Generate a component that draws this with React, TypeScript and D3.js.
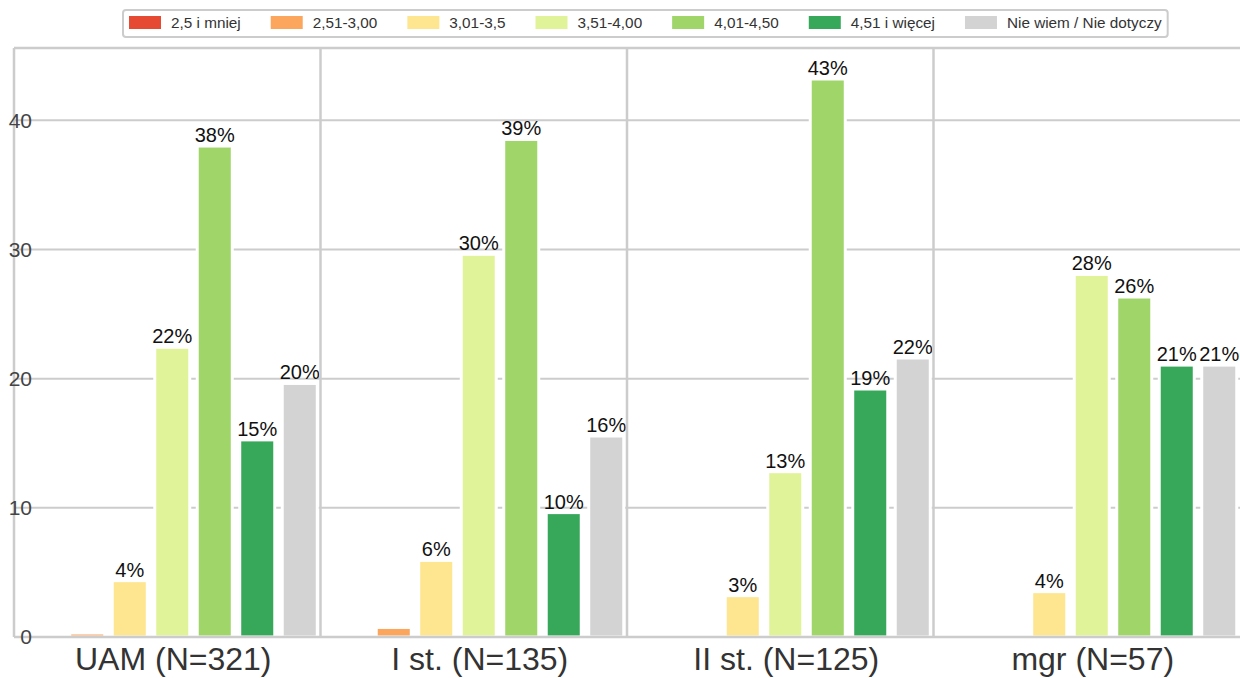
import React, { useEffect, useRef } from 'react';
import * as d3 from 'd3';

const W = 1240;
const H = 678;
const FONT = '"Liberation Sans", Arial, Helvetica, sans-serif';

const GROUPS = ['UAM (N=321)', 'I st. (N=135)', 'II st. (N=125)', 'mgr (N=57)'];
const SERIES = [
  '2,5 i mniej',
  '2,51-3,00',
  '3,01-3,5',
  '3,51-4,00',
  '4,01-4,50',
  '4,51 i więcej',
  'Nie wiem / Nie dotyczy',
];
const COLORS = ['#e64a33', '#fca55d', '#fee58f', '#e1f399', '#a0d56a', '#37a85a', '#d3d3d3'];

// percentages per group, in SERIES order
const UAM = [0, 0.31, 4.36, 22.43, 38.01, 15.26, 19.63];
const I_ST = [0, 0.74, 5.93, 29.63, 38.52, 9.63, 15.56];
const II_ST = [0, 0, 3.2, 12.8, 43.2, 19.2, 21.6];
const MGR = [0, 0, 3.51, 28.07, 26.32, 21.05, 21.05];
const VALUES = [UAM, I_ST, II_ST, MGR];

const Y_TICKS = [0, 10, 20, 30, 40];
const Y_MAX = 45.6;

const PLOT_LEFT = 14;
const PLOT_TOP = 48;
const PLOT_BOTTOM = 637;
const GRID = '#cccccc';

export default function App() {
  const ref = useRef<SVGSVGElement>(null);

  useEffect(() => {
    const svg = d3.select(ref.current);
    svg.selectAll('*').remove();

    const x0 = d3.scaleBand<string>().domain(GROUPS).range([19, 19 + 4 * 306.5]);
    const x1 = d3
      .scaleBand<string>()
      .domain(SERIES)
      .range([0, x0.bandwidth()])
      .paddingInner(0.176)
      .paddingOuter(0.194);
    const y = d3.scaleLinear().domain([0, Y_MAX]).range([PLOT_BOTTOM, PLOT_TOP]);

    // horizontal grid
    svg
      .append('g')
      .selectAll('line')
      .data(Y_TICKS.filter((t) => t > 0))
      .join('line')
      .attr('x1', PLOT_LEFT)
      .attr('x2', W)
      .attr('y1', (d) => y(d))
      .attr('y2', (d) => y(d))
      .attr('stroke', GRID)
      .attr('stroke-width', 2);

    // bars
    const groups = svg
      .append('g')
      .selectAll('g')
      .data(GROUPS)
      .join('g')
      .attr('transform', (g) => `translate(${x0(g)},0)`);

    groups
      .selectAll('rect')
      .data((g, i) => VALUES[i].map((v, j) => ({ key: SERIES[j], v, color: COLORS[j] })))
      .join('rect')
      .attr('x', (d) => x1(d.key)!)
      .attr('width', x1.bandwidth())
      .attr('y', (d) => y(d.v))
      .attr('height', (d) => PLOT_BOTTOM - y(d.v))
      .attr('fill', (d) => d.color)
      .attr('stroke', '#fff')
      .attr('stroke-width', 3);

    // frame + group separators
    const frame = svg.append('g').attr('stroke', GRID).attr('fill', 'none');
    frame
      .append('line')
      .attr('x1', PLOT_LEFT)
      .attr('x2', W)
      .attr('y1', PLOT_TOP)
      .attr('y2', PLOT_TOP)
      .attr('stroke-width', 2.5);
    frame
      .append('line')
      .attr('x1', PLOT_LEFT)
      .attr('x2', W)
      .attr('y1', PLOT_BOTTOM)
      .attr('y2', PLOT_BOTTOM)
      .attr('stroke-width', 2.5);
    frame
      .selectAll('line.sep')
      .data(GROUPS)
      .join('line')
      .attr('class', 'sep')
      .attr('x1', (g) => x0(g)! - 5)
      .attr('x2', (g) => x0(g)! - 5)
      .attr('y1', PLOT_TOP)
      .attr('y2', PLOT_BOTTOM)
      .attr('stroke-width', 2.5);

    // bar value labels
    groups
      .selectAll('text')
      .data((g, i) =>
        VALUES[i].map((v, j) => ({ key: SERIES[j], v })).filter((d) => d.v >= 1)
      )
      .join('text')
      .attr('x', (d) => x1(d.key)! + x1.bandwidth() / 2)
      .attr('y', (d) => y(d.v) - 4)
      .attr('text-anchor', 'middle')
      .attr('font-family', FONT)
      .attr('font-size', 20)
      .attr('fill', '#111')
      .text((d) => `${Math.round(d.v)}%`);

    // y tick labels
    svg
      .append('g')
      .selectAll('text')
      .data(Y_TICKS)
      .join('text')
      .attr('x', 32)
      .attr('y', (d) => y(d))
      .attr('dy', '0.35em')
      .attr('text-anchor', 'end')
      .attr('font-family', FONT)
      .attr('font-size', 21)
      .attr('fill', '#444')
      .text((d) => d);

    // category labels
    svg
      .append('g')
      .selectAll('text')
      .data(GROUPS)
      .join('text')
      .attr('x', (g) => x0(g)! + x0.bandwidth() / 2 + 1)
      .attr('y', 670)
      .attr('text-anchor', 'middle')
      .attr('font-family', FONT)
      .attr('font-size', 32)
      .attr('fill', '#333')
      .text((g) => g);

    // legend
    const legend = svg.append('g').attr('transform', 'translate(123,10)');
    const box = legend
      .append('rect')
      .attr('x', 0)
      .attr('y', 0)
      .attr('height', 27)
      .attr('rx', 3)
      .attr('fill', '#fff')
      .attr('stroke', GRID)
      .attr('stroke-width', 2);
    let cx = 6;
    SERIES.forEach((s, i) => {
      legend
        .append('rect')
        .attr('x', cx)
        .attr('y', 6)
        .attr('width', 32)
        .attr('height', 13)
        .attr('fill', COLORS[i]);
      const t = legend
        .append('text')
        .attr('x', cx + 42)
        .attr('y', 18)
        .attr('font-family', FONT)
        .attr('font-size', 15.3)
        .attr('fill', '#333')
        .text(s);
      const tw = (t.node() as SVGTextElement).getComputedTextLength();
      cx += 42 + tw + (i < SERIES.length - 1 ? 30 : 6);
    });
    box.attr('width', cx);
  }, []);

  return (
    <svg
      ref={ref}
      width={W}
      height={H}
      style={{ position: 'absolute', left: 0, top: 0, background: '#fff' }}
    />
  );
}
